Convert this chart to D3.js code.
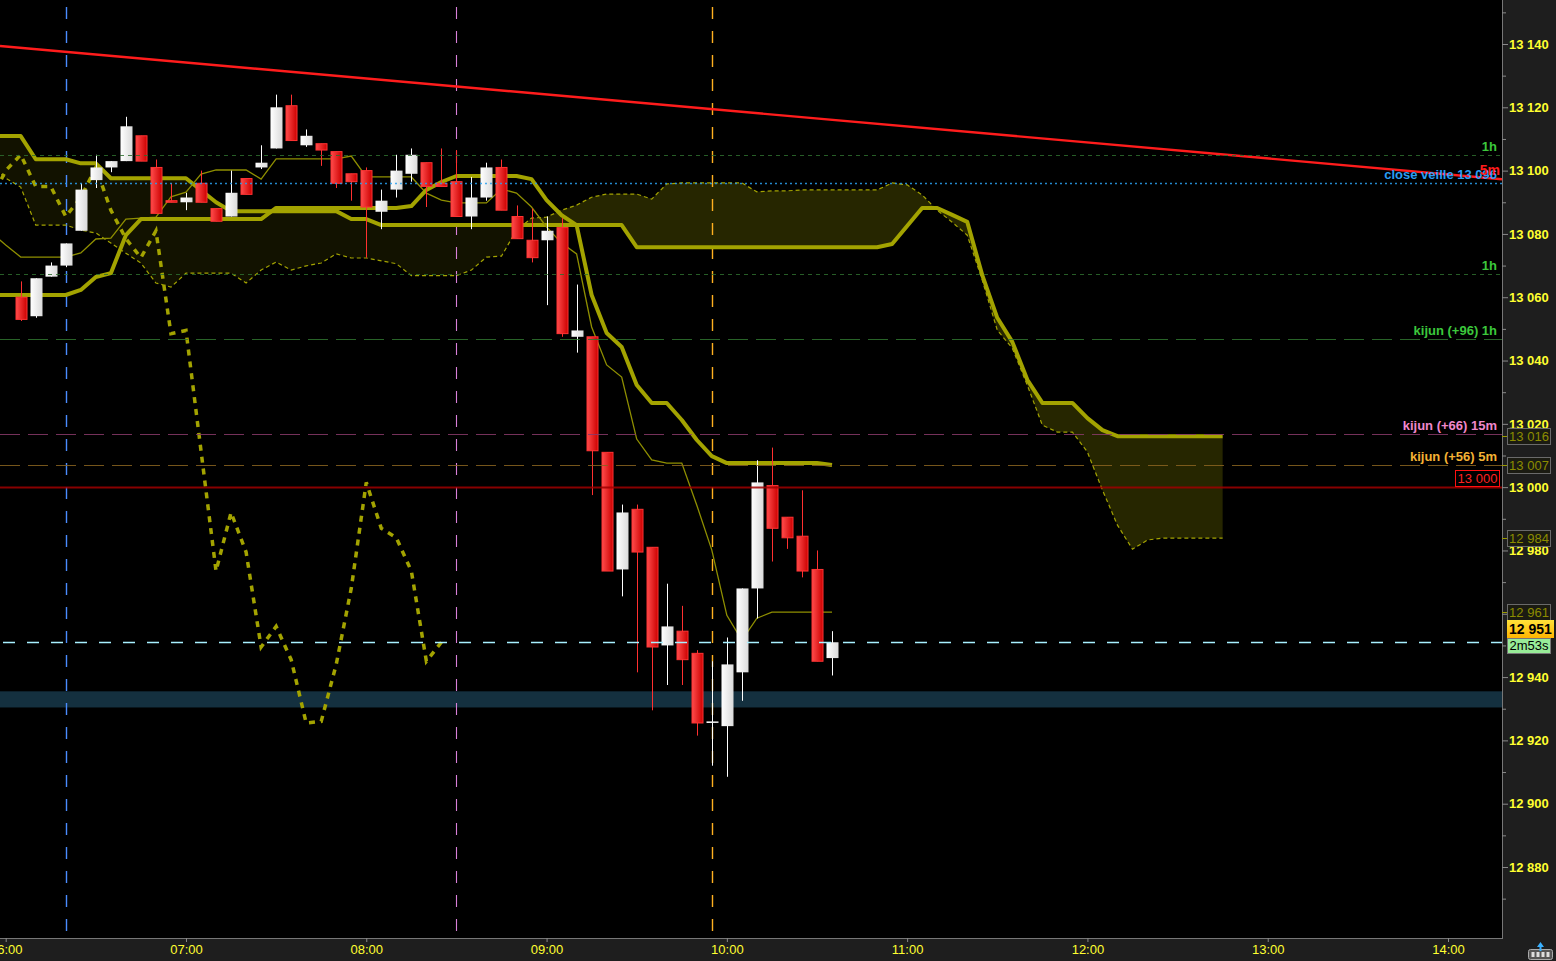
<!DOCTYPE html>
<html><head><meta charset="utf-8">
<script src="https://cdn.jsdelivr.net/npm/d3@7"></script>
<style>
html,body{margin:0;padding:0;background:#000;overflow:hidden}
svg{display:block}
text{font-family:"Liberation Sans",Arial,sans-serif}
</style></head><body>
<svg id="chart" width="1556" height="961"></svg>
<script>
// ---------------- DATA ----------------
const candleTimes = ["06:05","06:10","06:15","06:20","06:25","06:30","06:35","06:40","06:45","06:50","06:55","07:00","07:05","07:10","07:15","07:20","07:25","07:30","07:35","07:40","07:45","07:50","07:55","08:00","08:05","08:10","08:15","08:20","08:25","08:30","08:35","08:40","08:45","08:50","08:55","09:00","09:05","09:10","09:15","09:20","09:25","09:30","09:35","09:40","09:45","09:50","09:55","10:00","10:05","10:10","10:15","10:20","10:25","10:30","10:35"];
const opens  = [13060,13054,13066.5,13070,13081,13097,13101,13103,13111,13101,13090.5,13090,13096,13088,13085.5,13097.5,13101,13107,13120.5,13108,13108.5,13106,13099,13100,13087,13094,13099,13102.5,13096,13096.5,13085.5,13091.5,13101,13085.5,13078,13078,13082,13047.5,13047.5,13011,12974,12993,12981,12950,12954.5,12947.5,12925.5,12924.5,12941.5,12968,13000.5,12990.5,12984.5,12974,12946];
const highs  = [13065,13066,13071,13077,13096,13105,13103,13117,13111,13103.5,13096,13093,13100,13088,13100,13097.5,13108,13124,13124,13113,13108.5,13106,13099,13101,13094,13105,13107,13102.5,13107,13106.5,13098,13102.5,13103.5,13089,13088,13085.5,13085,13064,13047.5,13011,12994.5,12994.5,12981,12969.5,12962.5,12948.5,12945,12952.5,12968,13008.5,13012.5,12990.5,12999,12980,12954.5];
const lows   = [13052.5,13053.5,13066.5,13069.5,13081,13094.5,13099.5,13103,13103,13086.5,13090,13087.5,13090,13084,13085.5,13092.5,13100.5,13107,13109.5,13107.5,13101.5,13094.5,13090.5,13072.5,13081.5,13091.5,13096.5,13088.5,13095,13085.5,13081.5,13090.5,13087.5,13078.5,13071,13057.5,13047.5,13042.5,12997.5,12973.5,12965.5,12941.5,12929.5,12937.5,12937.5,12921.5,12912,12908.5,12932.5,12958.5,12976.5,12980.5,12971.5,12945,12940.5];
const closes = [13053,13066,13070,13077,13094,13101,13103,13114,13103,13086.5,13090,13091.5,13090,13084,13093,13092.5,13102.5,13120,13109.5,13111,13106.5,13096,13096.5,13088.5,13090.5,13100,13105,13095,13095,13085.5,13091.5,13101,13087.5,13078.5,13072.5,13081,13048.5,13049.5,13011.5,12973.5,12992,12979.5,12949.5,12956,12945.5,12925.5,12926,12944,12968,13001.5,12987,12984,12973.5,12945,12951];

// Ichimoku series on a 5-minute grid starting at 05:55
const gridStart = "05:55";
const tenkan = [13080.6,13076.5,13072.7,13072.7,13072.7,13072.7,13074.0,13078.4,13078.7,13084.7,13085.0,13085.3,13091.7,13093.2,13098.9,13100.2,13100.2,13100.2,13097.3,13103.7,13103.7,13103.7,13103.7,13103.7,13104.6,13098.0,13098.0,13098.0,13098.0,13092.9,13090.7,13089.8,13089.8,13089.8,13094.2,13092.9,13088.5,13082.2,13077.1,13073.7,13050.6,13038.6,13034.8,13015.2,13008.6,13007.6,13007.6,12994.3,12980.1,12959.5,12951.6,12958.6,12960.5,12960.5,12960.5,12960.5,12960.5];
const kijun = [13060.7,13060.7,13060.7,13060.7,13060.7,13060.7,13062.3,13066.4,13067.6,13079.6,13084.7,13084.7,13084.7,13084.7,13084.7,13084.7,13084.7,13084.7,13084.7,13088.2,13088.2,13088.2,13088.2,13088.2,13088.2,13088.2,13088.2,13088.2,13088.8,13093.9,13096.4,13098.3,13098.3,13098.3,13098.3,13098.3,13097.3,13090.7,13085.9,13082.8,13060.7,13048.7,13044.3,13032.3,13026.6,13026.6,13021.2,13014.9,13009.8,13007.6,13007.6,13007.6,13007.6,13007.6,13007.6,13007.6,13007.0];
const senkouB = [13110.9,13110.9,13110.9,13103.6,13103.6,13103.6,13102.3,13102.3,13097.6,13097.6,13097.6,13097.6,13097.6,13097.6,13093.8,13090.0,13087.2,13087.2,13087.2,13087.2,13087.2,13087.2,13087.2,13087.2,13084.7,13084.7,13082.8,13082.8,13082.8,13082.8,13082.8,13082.8,13082.8,13082.8,13082.8,13082.8,13082.8,13082.8,13082.8,13082.8,13082.8,13082.8,13082.8,13075.8,13075.8,13075.8,13075.8,13075.8,13075.8,13075.8,13075.8,13075.8,13075.8,13075.8,13075.8,13075.8,13075.8,13075.8,13075.8,13075.8,13076.8,13082.5,13088.2,13088.2,13086.0,13083.8,13067.0,13053.5,13045.9,13033.9,13026.6,13026.6,13026.6,13021.8,13018.0,13016.1,13016.1,13016.1,13016.1,13016.1,13016.1,13016.1,13016.1];
const senkouA = [13101.7,13097.6,13094.8,13082.8,13082.8,13082.8,13081.2,13080.3,13077.1,13073.9,13070.8,13064.5,13063.2,13067.6,13067.6,13067.6,13067.6,13064.5,13068.6,13071.1,13068.6,13069.9,13070.8,13073.7,13072.4,13072.4,13071.5,13070.6,13066.8,13066.8,13066.8,13066.8,13068.6,13072.7,13073.0,13081.2,13085.0,13085.3,13087.5,13089.1,13091.6,13092.6,13092.6,13092.6,13091.0,13095.8,13096.1,13096.1,13096.1,13096.1,13096.1,13093.3,13093.6,13093.6,13093.9,13093.9,13093.9,13093.9,13093.9,13093.9,13096.1,13095.5,13092.3,13087.5,13083.7,13079.6,13065.4,13049.6,13043.9,13032.2,13019.6,13017.4,13017.4,13011.1,12999.1,12988.0,12980.4,12983.3,12983.9,12983.9,12983.9,12983.9,12983.9];
const chikouShiftMin = 130; // lagging span: close plotted 26 bars back

const cloudFlipTime = "08:51";

// horizontal levels
const levelValues = [13105, 13096, 13067.3, 13046.8, 13016.8, 13007, 13000];
const levelLabels = ["1h", "close veille 13 096", "1h", "kijun (+96) 1h", "kijun (+66) 15m", "kijun (+56) 5m", "13 000"];

// vertical markers
const markerTimes = ["06:20", "08:30", "09:55"];

// red trend line (5m)
const trendTimes = ["06:00", "14:00"];
const trendValues = [13139.2, 13098.8];
const trendLabel = "5m";

const priceNow = 12951;
const timerLabel = "2m53s";
const zoneBand = [12930.4, 12935.5];

const yTickMajor = [12880, 12900, 12920, 12940, 12960, 12980, 13000, 13020, 13040, 13060, 13080, 13100, 13120, 13140];
const yTickMinor = [12870, 12890, 12910, 12930, 12950, 12970, 12990, 13010, 13030, 13050, 13070, 13090, 13110, 13130, 13150];

// ---------------- DRAW ----------------
const W = 1556, H = 961, PR = 1502, PB = 938;
const svg = d3.select("#chart");
const T = s => { const [h, m] = s.split(":").map(Number); return new Date(2020, 0, 6, h, m); };
const gridT = i => new Date(T(gridStart).getTime() + i * 300000);

const x = d3.scaleTime().domain([T("06:00"), T("14:00")]).range([5.7, 1448]);
const y = d3.scaleLinear().domain([12880, 13140]).range([867, 44]);
const fmt = d3.formatLocale({decimal: ".", thousands: " ", grouping: [3], currency: ["", ""]}).format(",.0f");

svg.append("rect").attr("width", W).attr("height", H).attr("fill", "#000");

const defs = svg.append("defs");
defs.append("clipPath").attr("id", "plot").append("rect").attr("width", PR).attr("height", PB);
const xFlip = x(T(cloudFlipTime));
defs.append("clipPath").attr("id", "cloudL").append("rect").attr("width", xFlip).attr("height", PB);
defs.append("clipPath").attr("id", "cloudR").append("rect").attr("x", xFlip).attr("width", PR - xFlip).attr("height", PB);
const gR = defs.append("linearGradient").attr("id", "gRed");
gR.append("stop").attr("offset", "0%").attr("stop-color", "#ff4c4c");
gR.append("stop").attr("offset", "100%").attr("stop-color", "#cc0000");
const gW = defs.append("linearGradient").attr("id", "gWhite");
gW.append("stop").attr("offset", "0%").attr("stop-color", "#ffffff");
gW.append("stop").attr("offset", "100%").attr("stop-color", "#dadada");
const gY = defs.append("linearGradient").attr("id", "gYel").attr("x2", 0).attr("y2", 1);
gY.append("stop").attr("offset", "0%").attr("stop-color", "#ffe23a");
gY.append("stop").attr("offset", "100%").attr("stop-color", "#ffb400");

const plot = svg.append("g").attr("clip-path", "url(#plot)");

// zone band
plot.append("rect").attr("x", 0).attr("width", PR)
  .attr("y", y(zoneBand[1])).attr("height", y(zoneBand[0]) - y(zoneBand[1]))
  .attr("fill", "#14303f");

// cloud
const cloudData = senkouB.map((b, i) => ({t: gridT(i), a: senkouA[i], b}));
const area = d3.area().x(d => x(d.t)).y0(d => y(d.a)).y1(d => y(d.b));
plot.append("path").datum(cloudData).attr("d", area).attr("fill", "#121200").attr("clip-path", "url(#cloudL)");
plot.append("path").datum(cloudData).attr("d", area).attr("fill", "#262600").attr("clip-path", "url(#cloudR)");

// vertical markers
const vColors = ["#4a8cff", "#d980d9", "#ffb020"];
const vWidths = [1.4, 1.1, 1.4];
markerTimes.forEach((t, i) => {
  const xx = Math.round(x(T(t))) + 0.5;
  plot.append("line").attr("x1", xx).attr("x2", xx).attr("y1", 0).attr("y2", PB)
    .attr("stroke", vColors[i]).attr("stroke-width", vWidths[i]).attr("stroke-dasharray", "12,12").attr("stroke-dashoffset", 17);
});

// ichimoku lines
const line = d3.line().x(d => x(d.t)).y(d => y(d.v));
const series = arr => arr.map((v, i) => ({t: gridT(i), v}));
plot.append("path").datum(series(senkouA)).attr("d", line).attr("fill", "none")
  .attr("stroke", "#a3a300").attr("stroke-width", 1.2).attr("stroke-dasharray", "4,3");
plot.append("path").datum(series(senkouB)).attr("d", line).attr("fill", "none")
  .attr("stroke", "#a3a300").attr("stroke-width", 4).attr("stroke-linejoin", "round");
const chikou = candleTimes.map((t, i) => ({t: new Date(T(t).getTime() - chikouShiftMin * 60000), v: closes[i]}))
  .filter(d => d.t >= T("05:55"));
plot.append("path").datum(chikou).attr("d", line).attr("fill", "none")
  .attr("stroke", "#a3a300").attr("stroke-width", 3.5).attr("stroke-dasharray", "6,6");
plot.append("path").datum(series(tenkan)).attr("d", line).attr("fill", "none")
  .attr("stroke", "#8f8f00").attr("stroke-width", 1.3);
plot.append("path").datum(series(kijun)).attr("d", line).attr("fill", "none")
  .attr("stroke", "#a3a300").attr("stroke-width", 4).attr("stroke-linejoin", "round");

// red trend line
{
  const t0 = T(trendTimes[0]).getTime(), t1 = T(trendTimes[1]).getTime();
  const vAt = tt => trendValues[0] + (trendValues[1] - trendValues[0]) * (tt - t0) / (t1 - t0);
  const ta = x.invert(0).getTime(), tb = x.invert(PR).getTime();
  plot.append("path").datum([{t: new Date(ta), v: vAt(ta)}, {t: new Date(tb), v: vAt(tb)}])
    .attr("d", line).attr("stroke", "#ff1c1c").attr("stroke-width", 2.4).attr("fill", "none");
}

// candles
const cw = 12;
const candles = candleTimes.map((t, i) => ({t: T(t), o: opens[i], h: highs[i], l: lows[i], c: closes[i]}));
const cg = plot.append("g");
candles.forEach(d => {
  const cx = Math.round(x(d.t));
  const up = d.c >= d.o;
  cg.append("line").attr("x1", cx + 0.5).attr("x2", cx + 0.5).attr("y1", y(d.h)).attr("y2", y(d.l))
    .attr("stroke", up ? "#ffffff" : "#ff3030").attr("stroke-width", 1);
  const top = y(Math.max(d.o, d.c)), bot = y(Math.min(d.o, d.c));
  const hgt = Math.max(bot - top, 1.5);
  if (up) {
    cg.append("rect").attr("x", cx - cw / 2 + 0.5).attr("width", cw).attr("y", top).attr("height", hgt)
      .attr("fill", "url(#gWhite)");
  } else {
    cg.append("rect").attr("x", cx - cw / 2 + 1).attr("width", cw - 1).attr("y", top).attr("height", hgt)
      .attr("fill", "url(#gRed)").attr("stroke", "#ff3434").attr("stroke-width", 1);
  }
});

// horizontal levels
const lvStyle = [
  {stroke: "#2e6e2e", dash: "4,4", w: 1, tc: "#3cc83c"},
  {stroke: "#2aa0f0", dash: "2,3", w: 1.5, tc: "#2a9df4"},
  {stroke: "#2e6e2e", dash: "4,4", w: 1, tc: "#3cc83c"},
  {stroke: "#307530", dash: "20,8", w: 1, tc: "#3cc83c"},
  {stroke: "#8a3a6a", dash: "20,8", w: 1, tc: "#f088cc"},
  {stroke: "#8a6420", dash: "20,8", w: 1, tc: "#f4b234"},
  {stroke: "#a00000", dash: null, w: 2, tc: "#ff2020"}
];
levelValues.forEach((v, i) => {
  const s = lvStyle[i];
  const yy = Math.round(y(v)) + 0.5;
  const ln = plot.append("line").attr("x1", 0).attr("x2", PR).attr("y1", yy).attr("y2", yy)
    .attr("stroke", s.stroke).attr("stroke-width", s.w).attr("opacity", 0.85);
  if (s.dash) ln.attr("stroke-dasharray", s.dash);
  if (i === levelValues.length - 1) {
    svg.append("rect").attr("x", 1455.5).attr("y", yy - 17).attr("width", 44).attr("height", 16)
      .attr("fill", "#000").attr("stroke", "#ff1010").attr("stroke-width", 1);
    svg.append("text").attr("x", 1477.5).attr("y", yy - 4.5).attr("text-anchor", "middle")
      .attr("font-size", 13).attr("fill", s.tc).text(levelLabels[i]);
  } else {
    svg.append("text").attr("x", 1497).attr("y", yy - 5).attr("text-anchor", "end")
      .attr("font-size", 13).attr("font-weight", "bold").attr("fill", s.tc).text(levelLabels[i]);
  }
});

// trend label
{
  const t0 = T(trendTimes[0]).getTime(), t1 = T(trendTimes[1]).getTime();
  const tb = x.invert(1490).getTime();
  const vb = trendValues[0] + (trendValues[1] - trendValues[0]) * (tb - t0) / (t1 - t0);
  svg.append("text").attr("x", 1500).attr("y", y(vb) - 3).attr("text-anchor", "end")
    .attr("font-size", 14).attr("font-weight", "bold").attr("fill", "#ff1c1c").text(trendLabel);
}

// current price line
plot.append("line").attr("x1", 0).attr("x2", PR).attr("y1", Math.round(y(priceNow)) + 0.5).attr("y2", Math.round(y(priceNow)) + 0.5)
  .attr("stroke", "#a8f0ff").attr("stroke-width", 1.5).attr("stroke-dasharray", "12,12").attr("stroke-dashoffset", -3);

// ---------------- AXES ----------------
svg.append("rect").attr("x", PR).attr("y", 0).attr("width", W - PR).attr("height", H).attr("fill", "#1e1e1e");
svg.append("rect").attr("x", 0).attr("y", PB).attr("width", W).attr("height", H - PB).attr("fill", "#1e1e1e");
svg.append("line").attr("x1", PR + 0.5).attr("x2", PR + 0.5).attr("y1", 0).attr("y2", PB + 1).attr("stroke", "#777");
svg.append("line").attr("x1", 0).attr("x2", PR + 1).attr("y1", PB + 0.5).attr("y2", PB + 0.5).attr("stroke", "#777");

const yMinor = svg.append("g").attr("transform", `translate(${PR},0)`)
  .call(d3.axisRight(y).tickValues(yTickMinor).tickSize(4).tickFormat(""));
const yMajor = svg.append("g").attr("transform", `translate(${PR},0)`)
  .call(d3.axisRight(y).tickValues(yTickMajor).tickSize(6).tickPadding(1).tickFormat(fmt));
[yMinor, yMajor].forEach(g => {
  g.select(".domain").remove();
  g.selectAll("line").attr("stroke", "#8a8a8a");
});
yMajor.selectAll("text").attr("fill", "#ffff30").attr("font-size", 13).attr("font-weight", "bold")
  .attr("font-family", "'Liberation Sans',Arial,sans-serif");

const xAxis = svg.append("g").attr("transform", `translate(0,${PB})`)
  .call(d3.axisBottom(x).ticks(d3.timeHour.every(1)).tickSize(4).tickPadding(3).tickFormat(d3.timeFormat("%H:%M")));
xAxis.select(".domain").remove();
xAxis.selectAll("line").attr("stroke", "#8a8a8a");
xAxis.selectAll("text").attr("fill", "#ffff30").attr("font-size", 13)
  .attr("font-family", "'Liberation Sans Narrow','Arial Narrow',sans-serif");

// right axis value boxes
const boxVals = [senkouB[senkouB.length - 1], kijun[kijun.length - 1], senkouA[senkouA.length - 1], tenkan[tenkan.length - 1]];
boxVals.forEach(v => {
  const yy = Math.round(y(v));
  svg.append("line").attr("x1", PR).attr("x2", PR + 6).attr("y1", yy + 0.5).attr("y2", yy + 0.5).attr("stroke", "#9a9a00");
  svg.append("rect").attr("x", 1507.5).attr("y", yy - 7.5).attr("width", 43).attr("height", 16)
    .attr("fill", "#1b1b12").attr("stroke", "#6a6a6a");
  svg.append("text").attr("x", 1529).attr("y", yy + 5).attr("text-anchor", "middle")
    .attr("font-size", 13).attr("fill", "#8c8c00").text(fmt(v));
});
{
  const yy = Math.round(y(priceNow));
  svg.append("rect").attr("x", 1507).attr("y", yy - 22).attr("width", 47).attr("height", 18).attr("fill", "url(#gYel)");
  svg.append("text").attr("x", 1530.5).attr("y", yy - 8).attr("text-anchor", "middle")
    .attr("font-size", 14).attr("font-weight", "bold").attr("fill", "#000").text(fmt(priceNow));
  svg.append("rect").attr("x", 1507.5).attr("y", yy - 3.5).attr("width", 43).attr("height", 15)
    .attr("fill", "#98ec98").attr("stroke", "#777");
  svg.append("text").attr("x", 1529).attr("y", yy + 8).attr("text-anchor", "middle")
    .attr("font-size", 13).attr("fill", "#000").text(timerLabel);
}

// bottom-right icon
const ic = svg.append("g").attr("transform", "translate(1528,941)");
ic.append("rect").attr("x", 0.5).attr("y", 8.5).attr("width", 24).attr("height", 10).attr("rx", 2)
  .attr("fill", "#555").attr("stroke", "#aaa");
[3, 8, 13, 18].forEach(dx => ic.append("rect").attr("x", dx + 0.5).attr("y", 11).attr("width", 3).attr("height", 5).attr("fill", "#ddd"));
ic.append("path").attr("d", "M12.5,1 L16,6 L13.5,6 L13.5,10 L11.5,10 L11.5,6 L9,6 Z").attr("fill", "#3ab0ff");
</script>
</body></html>
